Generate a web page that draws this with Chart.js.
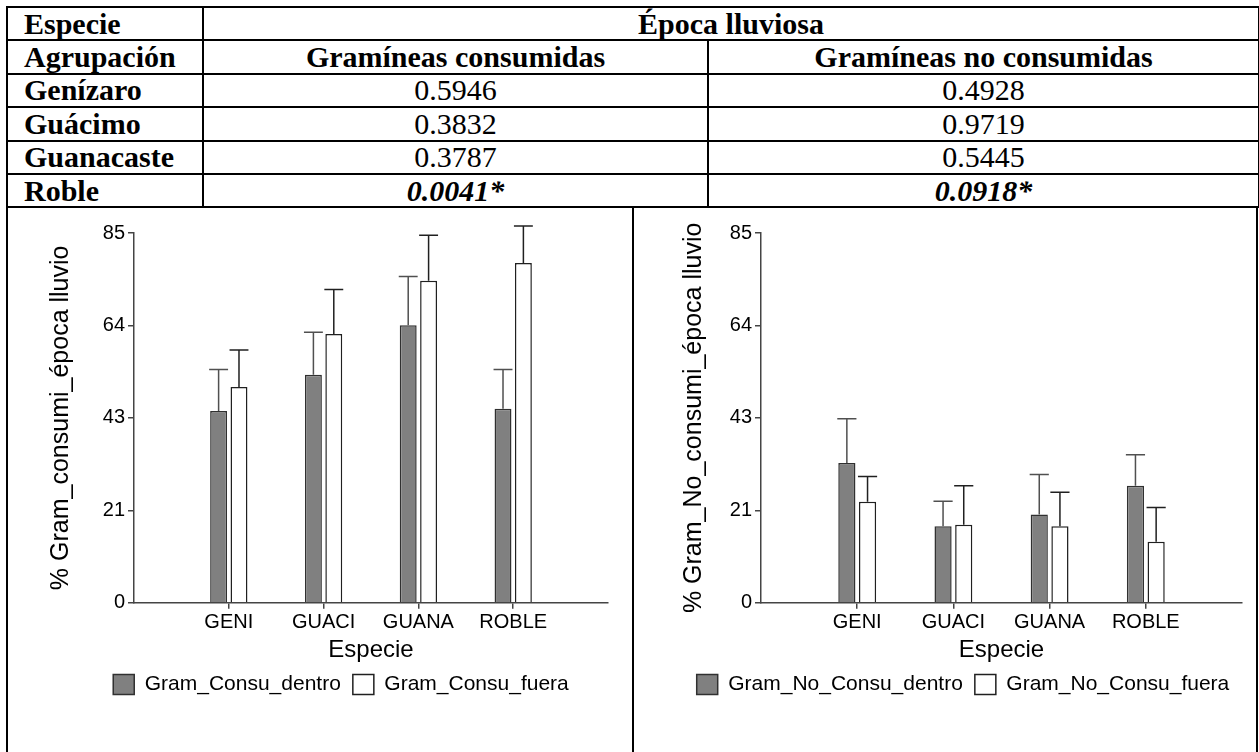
<!DOCTYPE html>
<html lang="es">
<head>
<meta charset="utf-8">
<title>Época lluviosa: gramíneas consumidas y no consumidas por especie</title>
<script src="https://cdn.jsdelivr.net/npm/chart.js@4.4.1/dist/chart.umd.min.js"></script>
<style>
  html, body { margin: 0; padding: 0; background: #fff; width: 1259px; height: 752px; overflow: hidden; }
  table.resumen {
    position: absolute; left: 6px; top: 6px; width: 1252px;
    border-collapse: collapse; table-layout: fixed;
    font-family: "Liberation Serif", "Times New Roman", serif; font-size: 30px; color: #000;
  }
  table.resumen tr { height: 33.4px; }
  table.resumen td {
    border: 2px solid #000; padding: 0; line-height: 30px;
    text-align: center; white-space: nowrap; overflow: hidden;
  }
  table.resumen td.nombre { text-align: left; padding-left: 16px; font-weight: bold; }
  table.resumen td.cab { font-weight: bold; }
  table.resumen td.sig { font-weight: bold; font-style: italic; }
  .panel { position: absolute; top: 207px; height: 560px; border-right: 2px solid #000; }
  #panelIzq { left: 6px; width: 624px; border-left: 2px solid #000; }
  #panelDer { left: 634px; width: 622px; }
  canvas { position: absolute; }
  #graficoConsu { left: 44px; top: 209px; }
  #graficoNoConsu { left: 677px; top: 209px; }
</style>
</head>
<body>
<table class="resumen">
  <colgroup><col style="width:196px"><col style="width:505px"><col style="width:551px"></colgroup>
  <tr><td class="nombre">Especie</td><td class="cab" colspan="2">Época lluviosa</td></tr>
  <tr><td class="nombre">Agrupación</td><td class="cab">Gramíneas consumidas</td><td class="cab">Gramíneas no consumidas</td></tr>
  <tr><td class="nombre">Genízaro</td><td>0.5946</td><td>0.4928</td></tr>
  <tr><td class="nombre">Guácimo</td><td>0.3832</td><td>0.9719</td></tr>
  <tr><td class="nombre">Guanacaste</td><td>0.3787</td><td>0.5445</td></tr>
  <tr><td class="nombre">Roble</td><td class="sig">0.0041*</td><td class="sig">0.0918*</td></tr>
</table>

<div class="panel" id="panelIzq"></div>
<div class="panel" id="panelDer"></div>

<canvas id="graficoConsu" width="594" height="496"></canvas>
<canvas id="graficoNoConsu" width="572" height="496"></canvas>

<script>
// Especies en el eje X
const categorias = ['GENI', 'GUACI', 'GUANA', 'ROBLE'];

// Gramíneas consumidas (%), media y error estándar
const consuDentro   = [44.1, 52.4, 63.8, 44.6];
const consuDentroEE = [9.5, 9.8, 11.2, 9.0];
const consuFuera    = [49.6, 61.8, 74.0, 78.1];
const consuFueraEE  = [8.5, 10.2, 10.5, 8.5];

// Gramíneas no consumidas (%), media y error estándar
const noConsuDentro   = [32.1, 17.6, 20.3, 26.9];
const noConsuDentroEE = [10.2, 5.7, 9.2, 7.1];
const noConsuFuera    = [23.2, 17.9, 17.6, 14.0];
const noConsuFueraEE  = [5.8, 9.0, 7.8, 7.9];

// Eje Y: máximo y etiquetas de las cinco marcas
const yMax = 85;
const yTicks = [0, 21, 43, 64, 85];

const FUENTE = '"Liberation Sans", Arial, sans-serif';
Chart.defaults.font.family = FUENTE;
Chart.defaults.color = '#000';

// Posiciones vacías a cada lado para que el eje X deje un hueco antes y después de las barras
const conBordes = arr => [null, ...arr, null];

// Barras de error (solo hacia arriba) dibujadas con la escala Y del gráfico
const barrasError = {
  id: 'barrasError',
  afterDatasetsDraw(chart) {
    const { ctx } = chart;
    const escalaY = chart.scales.y;
    chart.data.datasets.forEach((ds, di) => {
      const meta = chart.getDatasetMeta(di);
      if (!ds.errores || meta.hidden) return;
      ctx.save();
      ctx.strokeStyle = ds.colorError;
      ctx.lineWidth = 1.5;
      meta.data.forEach((barra, i) => {
        const v = ds.data[i];
        const e = ds.errores[i];
        if (v == null || e == null) return;
        const arriba = escalaY.getPixelForValue(v + e);
        const media = barra.width / 2 + 1;
        ctx.beginPath();
        ctx.moveTo(barra.x, barra.y);
        ctx.lineTo(barra.x, arriba);
        ctx.moveTo(barra.x - media, arriba);
        ctx.lineTo(barra.x + media, arriba);
        ctx.stroke();
      });
      ctx.restore();
    });
  }
};

function crearGrafico(id, cfg) {
  const ejeColor = '#444';
  return new Chart(document.getElementById(id), {
    type: 'bar',
    data: {
      labels: conBordes(categorias),
      datasets: [
        {
          label: cfg.etiquetaDentro,
          data: conBordes(cfg.dentro),
          errores: conBordes(cfg.dentroEE),
          backgroundColor: '#808080',
          borderColor: '#303030',
          borderWidth: 1.5,
          colorError: '#505050'
        },
        {
          label: cfg.etiquetaFuera,
          data: conBordes(cfg.fuera),
          errores: conBordes(cfg.fueraEE),
          backgroundColor: '#ffffff',
          borderColor: '#202020',
          borderWidth: 1.5,
          colorError: '#202020'
        }
      ]
    },
    options: {
      responsive: false,
      animation: false,
      layout: { padding: { top: 24, bottom: 0, left: 0, right: 0 } },
      datasets: { bar: { categoryPercentage: 0.43, barPercentage: 0.83 } },
      plugins: {
        tooltip: { enabled: false },
        legend: {
          position: 'bottom',
          labels: {
            boxWidth: 21, boxHeight: 20, padding: 12,
            color: '#000', font: { size: 21 }
          }
        }
      },
      scales: {
        x: {
          type: 'category',
          offset: false,
          grid: { display: true, offset: false, drawOnChartArea: false, drawTicks: true, tickLength: 6, tickColor: ejeColor, lineWidth: 1.5 },
          border: { display: true, color: ejeColor, width: 1.5 },
          ticks: { color: '#000', font: { size: 20 }, padding: 2, autoSkip: false, maxRotation: 0 },
          title: { display: true, text: 'Especie', color: '#000', font: { size: 24, lineHeight: 1 }, padding: { top: 0, bottom: 0 } },
          afterFit: s => { s.height = 59.3; }
        },
        y: {
          min: 0,
          max: yMax,
          grid: { display: true, drawOnChartArea: false, drawTicks: true, tickLength: 6, tickColor: ejeColor, lineWidth: 1.5 },
          border: { display: true, color: ejeColor, width: 1.5 },
          ticks: { stepSize: yMax / 4, callback: (v, i) => yTicks[i], color: '#000', font: { size: 20 }, padding: 3 },
          title: { display: true, text: cfg.tituloY, color: '#000', font: { size: 25, lineHeight: 1.2 }, padding: { top: 2, bottom: 0 } },
          afterFit: s => { s.width = cfg.anchoEjeY; }
        },
        margen: {
          type: 'linear',
          axis: 'y',
          position: 'right',
          grid: { display: false },
          border: { display: false },
          ticks: { display: false },
          afterFit: s => { s.width = cfg.margenDer; }
        }
      }
    },
    plugins: [barrasError]
  });
}

crearGrafico('graficoConsu', {
  etiquetaDentro: 'Gram_Consu_dentro',
  etiquetaFuera: 'Gram_Consu_fuera',
  dentro: consuDentro, dentroEE: consuDentroEE,
  fuera: consuFuera, fueraEE: consuFueraEE,
  tituloY: '% Gram_consumi_época lluvio',
  anchoEjeY: 90,
  margenDer: 30
});

crearGrafico('graficoNoConsu', {
  etiquetaDentro: 'Gram_No_Consu_dentro',
  etiquetaFuera: 'Gram_No_Consu_fuera',
  dentro: noConsuDentro, dentroEE: noConsuDentroEE,
  fuera: noConsuFuera, fueraEE: noConsuFueraEE,
  tituloY: '% Gram_No_consumi_época lluvio',
  anchoEjeY: 84,
  margenDer: 7
});
</script>
</body>
</html>
